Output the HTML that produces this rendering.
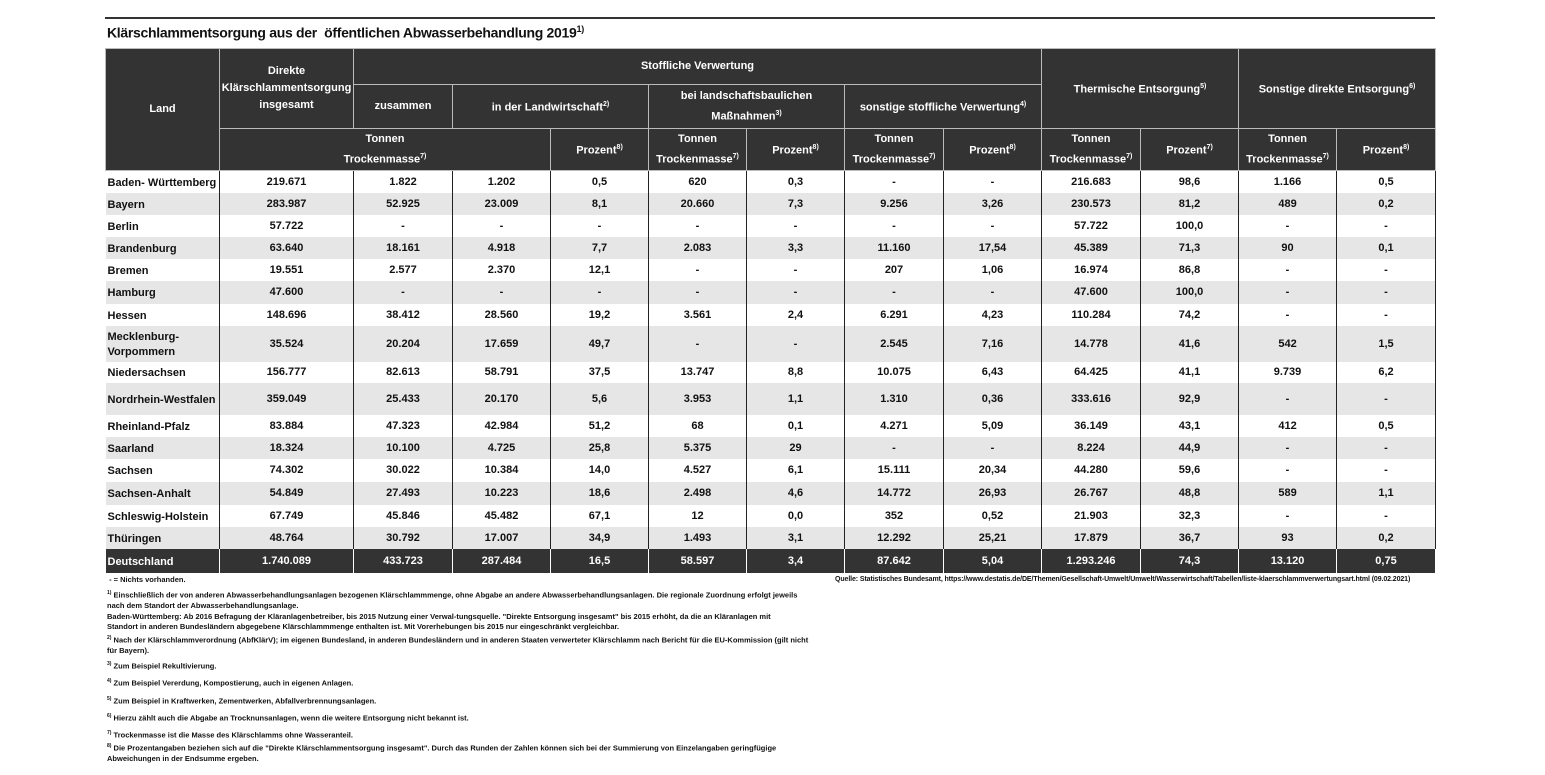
<!DOCTYPE html>
<html><head><meta charset="utf-8"><style>
body{margin:0;width:1545px;height:775px;background:#fff;position:relative;font-family:"Liberation Sans Narrow","Liberation Sans",sans-serif;color:#111;overflow:hidden}
.line{position:absolute;left:105px;top:17px;width:1330px;height:2px;background:#333}
.title{position:absolute;left:107px;top:24px;font-size:14px;font-weight:bold;letter-spacing:-0.3px}
.title sup{font-size:9px}
table{position:absolute;left:105px;top:48px;width:1330px;border-collapse:collapse;table-layout:fixed;font-size:11px;font-weight:bold}
th{background:#333;color:#fff;border:1.5px solid #bbb;font-weight:bold;line-height:17px;padding:0}
th sup,td sup{font-size:7px}
td{border-left:1.5px solid #222;border-right:1.5px solid #222;padding:0;text-align:center;white-space:nowrap;vertical-align:middle}
td:first-child{text-align:left;padding-left:2px;padding-top:3px;border-left:none;line-height:15px}
tbody tr:nth-child(even) td{background:#e6e6e6}
tr.tot td{background:#333!important;color:#fff;border-color:#fff}
.fn{position:absolute;left:107px;font-size:7.5px;font-weight:bold;line-height:10.5px;white-space:nowrap}
.fn sup{font-size:5px}
.src{position:absolute;left:835px;top:576px;font-size:7px;font-weight:bold;white-space:nowrap;letter-spacing:-0.1px}
</style></head><body>
<div class="line"></div>
<div class="title">Klärschlammentsorgung aus der&nbsp; öffentlichen Abwasserbehandlung 2019<sup>1)</sup></div>
<table>
<colgroup><col style="width:114px"><col style="width:134px"><col style="width:99px"><col style="width:98px"><col style="width:98px"><col style="width:98px"><col style="width:98px"><col style="width:99px"><col style="width:98px"><col style="width:99px"><col style="width:98px"><col style="width:98px"><col style="width:99px"><col style="width:98px"></colgroup>
<thead>
<tr style="height:36px"><th rowspan="3">Land</th><th rowspan="2">Direkte<br>Klärschlammentsorgung<br>insgesamt</th><th colspan="7">Stoffliche Verwertung</th><th colspan="2" rowspan="2">Thermische Entsorgung<sup>5)</sup></th><th colspan="2" rowspan="2">Sonstige direkte Entsorgung<sup>6)</sup></th></tr>
<tr style="height:44px"><th>zusammen</th><th colspan="2">in der Landwirtschaft<sup>2)</sup></th><th colspan="2">bei landschaftsbaulichen<br>Maßnahmen<sup>3)</sup></th><th colspan="2">sonstige stoffliche Verwertung<sup>4)</sup></th></tr>
<tr style="height:42px"><th colspan="3">Tonnen<br>Trockenmasse<sup>7)</sup></th><th>Prozent<sup>8)</sup></th><th>Tonnen<br>Trockenmasse<sup>7)</sup></th><th>Prozent<sup>8)</sup></th><th>Tonnen<br>Trockenmasse<sup>7)</sup></th><th>Prozent<sup>8)</sup></th><th>Tonnen<br>Trockenmasse<sup>7)</sup></th><th>Prozent<sup>7)</sup></th><th>Tonnen<br>Trockenmasse<sup>7)</sup></th><th>Prozent<sup>8)</sup></th></tr>
</thead>
<tbody>
<tr style="height:22px"><td>Baden- Württemberg</td><td>219.671</td><td>1.822</td><td>1.202</td><td>0,5</td><td>620</td><td>0,3</td><td>-</td><td>-</td><td>216.683</td><td>98,6</td><td>1.166</td><td>0,5</td></tr>
<tr style="height:22px"><td>Bayern</td><td>283.987</td><td>52.925</td><td>23.009</td><td>8,1</td><td>20.660</td><td>7,3</td><td>9.256</td><td>3,26</td><td>230.573</td><td>81,2</td><td>489</td><td>0,2</td></tr>
<tr style="height:22px"><td>Berlin</td><td>57.722</td><td>-</td><td>-</td><td>-</td><td>-</td><td>-</td><td>-</td><td>-</td><td>57.722</td><td>100,0</td><td>-</td><td>-</td></tr>
<tr style="height:22px"><td>Brandenburg</td><td>63.640</td><td>18.161</td><td>4.918</td><td>7,7</td><td>2.083</td><td>3,3</td><td>11.160</td><td>17,54</td><td>45.389</td><td>71,3</td><td>90</td><td>0,1</td></tr>
<tr style="height:22px"><td>Bremen</td><td>19.551</td><td>2.577</td><td>2.370</td><td>12,1</td><td>-</td><td>-</td><td>207</td><td>1,06</td><td>16.974</td><td>86,8</td><td>-</td><td>-</td></tr>
<tr style="height:23px"><td>Hamburg</td><td>47.600</td><td>-</td><td>-</td><td>-</td><td>-</td><td>-</td><td>-</td><td>-</td><td>47.600</td><td>100,0</td><td>-</td><td>-</td></tr>
<tr style="height:22px"><td>Hessen</td><td>148.696</td><td>38.412</td><td>28.560</td><td>19,2</td><td>3.561</td><td>2,4</td><td>6.291</td><td>4,23</td><td>110.284</td><td>74,2</td><td>-</td><td>-</td></tr>
<tr style="height:36px"><td>Mecklenburg-<br>Vorpommern</td><td>35.524</td><td>20.204</td><td>17.659</td><td>49,7</td><td>-</td><td>-</td><td>2.545</td><td>7,16</td><td>14.778</td><td>41,6</td><td>542</td><td>1,5</td></tr>
<tr style="height:21px"><td>Niedersachsen</td><td>156.777</td><td>82.613</td><td>58.791</td><td>37,5</td><td>13.747</td><td>8,8</td><td>10.075</td><td>6,43</td><td>64.425</td><td>41,1</td><td>9.739</td><td>6,2</td></tr>
<tr style="height:32px"><td>Nordrhein-Westfalen</td><td>359.049</td><td>25.433</td><td>20.170</td><td>5,6</td><td>3.953</td><td>1,1</td><td>1.310</td><td>0,36</td><td>333.616</td><td>92,9</td><td>-</td><td>-</td></tr>
<tr style="height:22px"><td>Rheinland-Pfalz</td><td>83.884</td><td>47.323</td><td>42.984</td><td>51,2</td><td>68</td><td>0,1</td><td>4.271</td><td>5,09</td><td>36.149</td><td>43,1</td><td>412</td><td>0,5</td></tr>
<tr style="height:22px"><td>Saarland</td><td>18.324</td><td>10.100</td><td>4.725</td><td>25,8</td><td>5.375</td><td>29</td><td>-</td><td>-</td><td>8.224</td><td>44,9</td><td>-</td><td>-</td></tr>
<tr style="height:23px"><td>Sachsen</td><td>74.302</td><td>30.022</td><td>10.384</td><td>14,0</td><td>4.527</td><td>6,1</td><td>15.111</td><td>20,34</td><td>44.280</td><td>59,6</td><td>-</td><td>-</td></tr>
<tr style="height:23px"><td>Sachsen-Anhalt</td><td>54.849</td><td>27.493</td><td>10.223</td><td>18,6</td><td>2.498</td><td>4,6</td><td>14.772</td><td>26,93</td><td>26.767</td><td>48,8</td><td>589</td><td>1,1</td></tr>
<tr style="height:22px"><td>Schleswig-Holstein</td><td>67.749</td><td>45.846</td><td>45.482</td><td>67,1</td><td>12</td><td>0,0</td><td>352</td><td>0,52</td><td>21.903</td><td>32,3</td><td>-</td><td>-</td></tr>
<tr style="height:22px"><td>Thüringen</td><td>48.764</td><td>30.792</td><td>17.007</td><td>34,9</td><td>1.493</td><td>3,1</td><td>12.292</td><td>25,21</td><td>17.879</td><td>36,7</td><td>93</td><td>0,2</td></tr>
<tr class="tot" style="height:24px"><td>Deutschland</td><td>1.740.089</td><td>433.723</td><td>287.484</td><td>16,5</td><td>58.597</td><td>3,4</td><td>87.642</td><td>5,04</td><td>1.293.246</td><td>74,3</td><td>13.120</td><td>0,75</td></tr>
</tbody></table>
<div class="src">Quelle: Statistisches Bundesamt, https://www.destatis.de/DE/Themen/Gesellschaft-Umwelt/Umwelt/Wasserwirtschaft/Tabellen/liste-klaerschlammverwertungsart.html (09.02.2021)</div>
<div class="fn" style="top:575px">&nbsp;- = Nichts vorhanden.</div>
<div class="fn" style="top:588px"><sup>1)</sup> Einschließlich der von anderen Abwasserbehandlungsanlagen bezogenen Klärschlammmenge, ohne Abgabe an andere Abwasserbehandlungsanlagen. Die regionale Zuordnung erfolgt jeweils<br>nach dem Standort der Abwasserbehandlungsanlage.<br>Baden-Württemberg: Ab 2016 Befragung der Kläranlagenbetreiber, bis 2015 Nutzung einer Verwal-tungsquelle. "Direkte Entsorgung insgesamt" bis 2015 erhöht, da die an Kläranlagen mit<br>Standort in anderen Bundesländern abgegebene Klärschlammmenge enthalten ist. Mit Vorerhebungen bis 2015 nur eingeschränkt vergleichbar.<br><sup>2)</sup> Nach der Klärschlammverordnung (AbfKlärV); im eigenen Bundesland, in anderen Bundesländern und in anderen Staaten verwerteter Klärschlamm nach Bericht für die EU-Kommission (gilt nicht<br>für Bayern).</div>
<div class="fn" style="top:659px"><sup>3)</sup> Zum Beispiel Rekultivierung.</div>
<div class="fn" style="top:676px"><sup>4)</sup> Zum Beispiel Vererdung, Kompostierung, auch in eigenen Anlagen.</div>
<div class="fn" style="top:694px"><sup>5)</sup> Zum Beispiel in Kraftwerken, Zementwerken, Abfallverbrennungsanlagen.</div>
<div class="fn" style="top:711px"><sup>6)</sup> Hierzu zählt auch die Abgabe an Trocknunsanlagen, wenn die weitere Entsorgung nicht bekannt ist.</div>
<div class="fn" style="top:728px"><sup>7)</sup> Trockenmasse ist die Masse des Klärschlamms ohne Wasseranteil.</div>
<div class="fn" style="top:741px"><sup>8)</sup> Die Prozentangaben beziehen sich auf die "Direkte Klärschlammentsorgung insgesamt". Durch das Runden der Zahlen können sich bei der Summierung von Einzelangaben geringfügige<br>Abweichungen in der Endsumme ergeben.</div>
</body></html>
